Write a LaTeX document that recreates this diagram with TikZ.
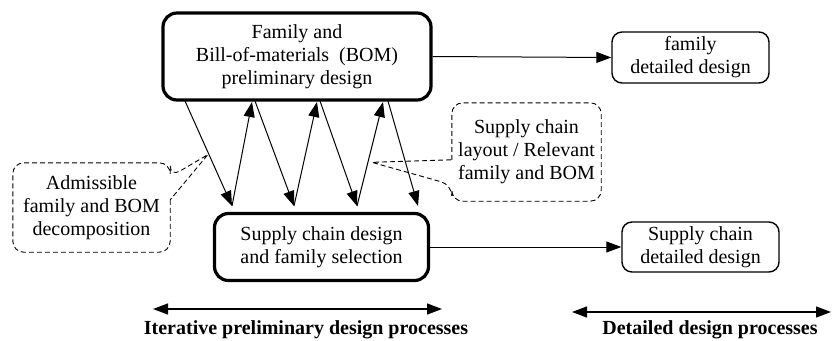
\documentclass[tikz,border=0pt]{standalone}
\usepackage{fontspec}
\setmainfont{Liberation Serif}
\usetikzlibrary{arrows.meta,calc}

\tikzset{
  mainbox/.style={draw, line width=3.2pt, rounded corners=14pt, align=center, inner sep=0pt},
  detailbox/.style={draw, line width=1.4pt, rounded corners=10pt, align=center, inner sep=0pt},
  note/.style={align=center, inner sep=0pt},
  notepath/.style={dash pattern=on 5pt off 3pt, line width=0.9pt},
  flow/.style={-{Triangle[length=15pt,width=11pt]}, line width=1pt},
  span/.style={{Triangle[length=15pt,width=11pt]}-{Triangle[length=15pt,width=11pt]}, line width=1.3pt},
  phase/.style={font={\fontsize{20}{23}\selectfont\bfseries}}
}

\begin{document}
\begin{tikzpicture}[x=1pt,y=-1pt,font=\fontsize{20}{23}\selectfont]
  \useasboundingbox (0,0) rectangle (832,340);

  % Preliminary design boxes
  \node[mainbox, minimum width=268pt, minimum height=87pt] (bom) at (297,56.5)
    {Family and\\Bill-of-materials~~(BOM)\\preliminary design};
  \node[mainbox, minimum width=214pt, minimum height=67pt] (scd) at (321.5,247)
    {Supply chain design\\and family selection};

  % Detailed design boxes
  \node[detailbox, minimum width=157pt, minimum height=51pt] (fdd) at (690.5,57.5)
    {family\\detailed design};
  \node[detailbox, minimum width=157pt, minimum height=50pt] (sdd) at (700.5,247)
    {Supply chain\\detailed design};

  \draw[flow] (bom.east) -- (fdd.west);
  \draw[flow] (scd.east) -- (sdd.west);

  % Iterations between the two preliminary processes
  \foreach \xa/\xb/\xc [count=\i] in {185/232/252, 255/294/317, 320/357/383} {
    \coordinate (a\i) at (\xa,101);
    \coordinate (c\i) at (\xb,206);
    \coordinate (b\i) at (\xc,102);
  }
  \coordinate (a4) at (388,101);
  \coordinate (c4) at (418,206);

  \draw[flow] (a1) -- coordinate[pos=0.51] (p1) (c1);
  \draw[flow] (c1) -- (b1);
  \draw[flow] (a2) -- (c2);
  \draw[flow] (c2) -- (b2);
  \draw[flow] (a3) -- (c3);
  \draw[flow] (c3) -- coordinate[pos=0.42] (p2) (b3);
  \draw[flow] (a4) -- (c4);

  % Callouts
  \node[note, minimum width=157pt, minimum height=89pt] (adm) at (91.5,207.5)
    {Admissible\\family and BOM\\decomposition};
  \draw[notepath] ($(adm.north east)+(0,37)$) [rounded corners=11pt]
    -- (adm.south east) -- (adm.south west) -- (adm.north west) -- (adm.north east)
    -- ($(adm.north east)+(0,14)$) [sharp corners] -- ($(p1)+(-1,0)$) -- cycle;

  \node[note, minimum width=149pt, minimum height=98pt] (scl) at (526.5,152)
    {Supply chain\\layout / Relevant\\family and BOM};
  \draw[notepath] ($(scl.north west)+(0,57)$) [rounded corners=11pt]
    -- (scl.north west) -- (scl.north east) -- (scl.south east) -- (scl.south west)
    -- ($(scl.north west)+(0,82)$) [sharp corners] -- ($(p2)+(4,0)$) -- cycle;

  % Process spans
  \coordinate (il) at (153,309);
  \coordinate (ir) at (442,309);
  \draw[span] (il) -- (ir);
  \node[phase] (itl) at (306,330) {Iterative preliminary design processes};

  \coordinate (dl) at (572,312);
  \coordinate (dr) at (831,312);
  \draw[span] (dl) -- (dr);
  \node[phase] (dtl) at (710,330) {Detailed design processes};

\end{tikzpicture}
\end{document}
